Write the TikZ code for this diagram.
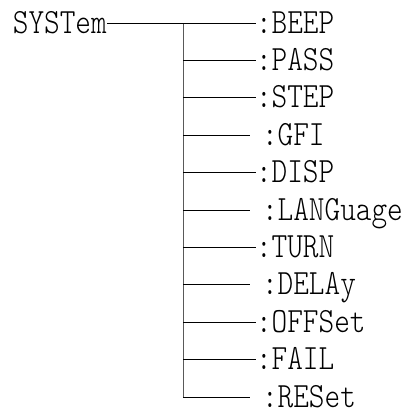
\documentclass[tikz,border=0pt]{standalone}
\usepackage{fontspec}
\newfontfamily\cmdfont[FakeStretch=0.84]{lmmonolt10-regular.otf}
\def\RowTop{23}
\def\RowStep{37.4}
\def\TrunkX{183}

\begin{document}
\begin{tikzpicture}[x=1pt,y=-1pt]

\tikzset{
    cmd/.style={inner sep=0pt, text height=20pt, text depth=0pt,
        font=\cmdfont\fontsize{35.5}{35.5}\selectfont},
    tight/.style={outer xsep=0pt},
    gap/.style={outer xsep=12pt},
    wire/.style={line width=0.8pt, black},
    trunk/.style={line width=0.8pt, black!65}
}

% Page area
\useasboundingbox (0,0) rectangle (407,410);

% =====================================================
% ROOT COMMAND
% =====================================================
\node[cmd, anchor=east] (sys) at (107,\RowTop) {SYSTem};

% =====================================================
% SUB COMMANDS
% =====================================================
\foreach \name/\i/\kind/\x in {:BEEP/1/tight/256,:PASS/2/tight/256,
    :STEP/3/tight/256,:GFI/4/gap/250,:DISP/5/tight/256,
    :LANGuage/6/gap/250,:TURN/7/tight/256,:DELAy/8/gap/250,
    :OFFSet/9/tight/256,:FAIL/10/tight/256,:RESet/11/gap/250} {
    \pgfmathsetmacro{\y}{\RowTop + (\i-1)*\RowStep}
    \node[cmd, \kind, anchor=west] (b\i) at (\x,\y) {\name};
    \coordinate (t\i) at (\TrunkX,\y);
}

% Trunk
\draw[trunk] (t1) -- (t11);

% Branch lines
\draw[wire] (sys.east) -- (b1.west);
\foreach \i in {2,...,11} {
    \draw[wire] (t\i) -- (b\i.west);
}

\end{tikzpicture}
\end{document}
